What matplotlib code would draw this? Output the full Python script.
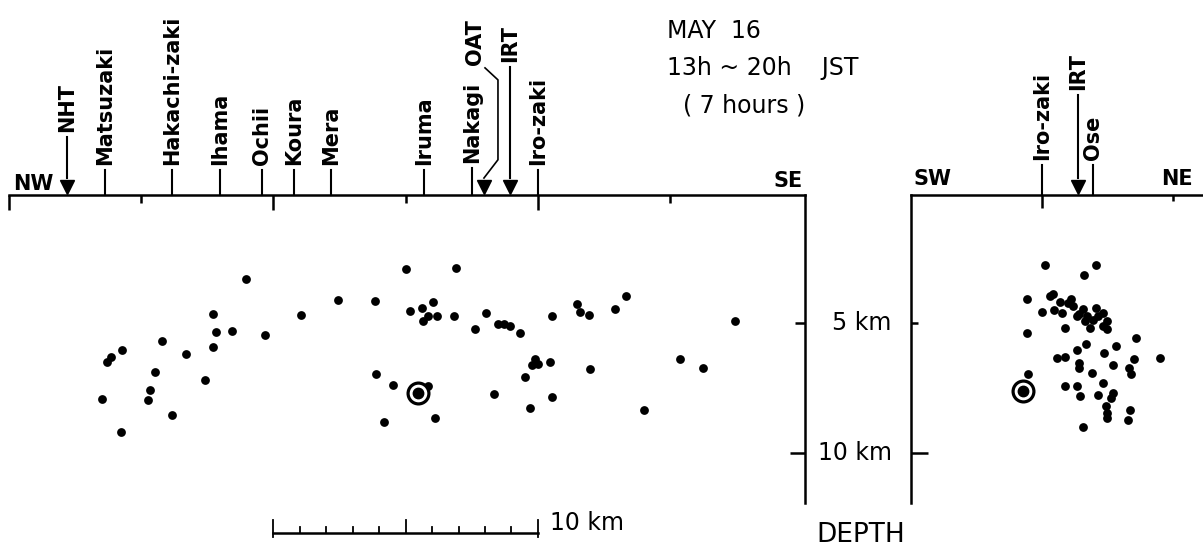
import numpy as np
import matplotlib.pyplot as plt
from matplotlib import font_manager

# hypocentres, NW-SE section (distance along profile km, depth km)
nw_x = [8.95, 15.03, 12.45, 13.83, 7.70, 11.04, 15.17, 15.60, 16.02, 15.84,
        15.65, 16.18, 7.81, 8.43, 9.68, 5.77, 4.29, 3.87, 3.72, 6.71,
        7.73, 5.51, 7.42, 5.35, 5.27, 3.53, 6.18, 4.22, 13.87, 14.52,
        15.86, 14.19, 16.12, 16.91, 16.83, 18.02, 17.62, 18.48, 18.73, 18.96,
        19.34, 20.54, 21.46, 21.61, 21.94, 22.92, 23.34, 27.44, 19.88, 20.01,
        19.77, 20.44, 19.53, 21.98, 25.39, 26.23, 18.35, 20.52, 19.72, 24.01]
nw_depth = [3.31, 2.92, 4.14, 4.15, 4.66, 4.71, 4.53, 4.42, 4.20, 4.74,
            4.92, 4.74, 5.36, 5.30, 5.45, 5.71, 6.04, 6.31, 6.51, 6.18,
            5.93, 6.89, 7.18, 7.57, 7.94, 7.93, 8.54, 9.18, 6.96, 7.38,
            7.42, 8.81, 8.66, 2.90, 4.74, 4.62, 5.24, 5.06, 5.06, 5.10,
            5.40, 4.72, 4.26, 4.59, 4.69, 4.48, 3.97, 4.93, 6.40, 6.58,
            6.63, 6.49, 7.06, 6.77, 6.40, 6.72, 7.71, 7.85, 8.25, 8.33]

# hypocentres, SW-NE section
sw_x = [5.11, 7.06, 6.58, 4.44, 4.99, 5.31, 5.43, 5.69, 5.46, 5.75,
        6.10, 6.19, 6.39, 6.55, 6.71, 7.06, 7.32, 6.96, 6.81, 7.47,
        7.47, 5.88, 4.44, 8.58, 6.68, 6.32, 7.82, 7.38, 9.48, 5.56,
        5.88, 6.39, 6.42, 7.70, 8.51, 8.33, 8.39, 6.90, 4.45, 5.88,
        6.32, 7.32, 6.45, 7.15, 7.72, 7.62, 7.44, 7.47, 7.47, 8.36,
        8.29, 6.55, 5.98, 6.32, 6.64, 7.15, 7.34]
sw_depth = [2.80, 2.80, 3.18, 4.10, 4.59, 3.97, 3.88, 4.20, 4.51, 4.61,
            4.07, 4.36, 4.67, 4.46, 4.74, 4.42, 4.61, 4.87, 5.18, 4.93,
            5.25, 5.18, 5.38, 5.57, 5.79, 6.02, 5.89, 6.17, 6.33, 6.33,
            6.30, 6.52, 6.72, 6.63, 6.40, 6.72, 6.97, 6.91, 6.97, 7.42,
            7.42, 7.29, 7.80, 7.78, 7.67, 7.87, 8.19, 8.44, 8.63, 8.34,
            8.72, 8.98, 4.23, 4.74, 4.93, 4.74, 5.10]

# largest event (circled)
main_nw = [15.46, 7.70]
main_sw = [4.29, 7.61]

# stations projected on the sections
nw_names = ['NHT', 'Matsuzaki', 'Hakachi-zaki', 'Ihama', 'Ochii', 'Koura', 'Mera',
            'Iruma', 'Nakagi', 'OAT', 'IRT', 'Iro-zaki']
nw_km = [2.19, 3.63, 6.16, 7.98, 9.57, 10.78, 12.17, 15.69, 17.5, 17.96, 18.94, 20.0]
nw_arrow = [True, False, False, False, False, False, False, False, False, True, True, False]
sw_names = ['Iro-zaki', 'IRT', 'Ose']
sw_km = [5.0, 6.37, 6.95]
sw_arrow = [False, True, False]

# layout: bottom of each rotated label (negative = above surface line)
nw_label_base = [-2.32, -1.05, -1.05, -1.05, -1.05, -1.05, -1.05, -1.05, -1.13, -4.89, -5.0, -1.05]
nw_label_dx = [0, 0, 0, 0, 0, 0, 0, 0, 0, -0.32, 0, 0]
sw_label_base = [-1.25, -3.93, -1.25]
sw_label_dx = [0, 0, 0]

names = {f.name for f in font_manager.fontManager.ttflist}
if 'Liberation Sans Narrow' in names:
    LAB = dict(family='Liberation Sans Narrow', fontweight='bold', fontsize=21)
    DIR = dict(family='Liberation Sans Narrow', fontweight='bold', fontsize=19)
else:
    LAB = dict(family='DejaVu Sans', fontweight='bold', fontsize=15)
    DIR = dict(family='DejaVu Sans', fontweight='bold', fontsize=15)
REG = dict(family='DejaVu Sans', fontsize=17)

LW = 1.8
W, H = 1203, 552
fig = plt.figure(figsize=(W / 100, H / 100), dpi=100)
top, bot = 195, 503
axL = fig.add_axes([9 / W, (H - bot) / H, 796 / W, (bot - top) / H])
axR = fig.add_axes([911 / W, (H - bot) / H, 291 / W, (bot - top) / H])
axL.set_xlim(0, 30.1)
axR.set_xlim(0, 11.1)
for ax in (axL, axR):
    ax.set_ylim(11.9, 0.1)
    ax.set_facecolor('none')
    for s in ax.spines.values():
        s.set_linewidth(LW)
    ax.spines['bottom'].set_visible(False)
    ax.xaxis.set_ticks_position('top')

axL.spines['left'].set_visible(False)
axL.yaxis.set_ticks_position('right')
axL.set_xticks([0, 10, 20])
axL.set_xticks([5, 15, 25], minor=True)

axR.spines['right'].set_visible(False)
axR.yaxis.set_ticks_position('left')
axR.set_xticks([5])
axR.set_xticks([10], minor=True)

for ax in (axL, axR):
    ax.set_yticks([10])
    ax.set_yticks([5], minor=True)
    ax.tick_params(axis='both', which='both', direction='in', width=LW,
                   labeltop=False, labelbottom=False, labelleft=False, labelright=False)

axL.tick_params(axis='x', which='major', length=11)
axL.tick_params(axis='x', which='minor', length=6)
axL.tick_params(axis='y', which='major', length=11)
axL.tick_params(axis='y', which='minor', length=7)
axR.tick_params(axis='x', which='major', length=9)
axR.tick_params(axis='x', which='minor', length=4)
axR.tick_params(axis='y', which='major', length=12)
axR.tick_params(axis='y', which='minor', length=5)


def draw_events(ax, xs, ds, main):
    ax.scatter(xs, ds, s=40, color='k', linewidths=0, zorder=3)
    ax.plot(main[0], main[1], 'o', ms=15, mfc='white', mec='k', mew=2.3, zorder=4)
    ax.plot(main[0], main[1], 'o', ms=7.5, color='k', zorder=5)


def draw_stations(ax, labels, km, arrow, base, dx):
    for name, x, a, b, d in zip(labels, km, arrow, base, dx):
        lo = -0.55 if a else 0.1
        if a:
            ax.plot(x, -0.22, marker='v', ms=10.5, color='k', clip_on=False)
        if d == 0:
            ax.plot([x, x], [lo, b + 0.2], color='k', lw=1.5, clip_on=False)
        else:
            ax.plot([x, x + 0.53, x + 0.53, x + 0.04], [lo, -1.25, -4.31, -4.77],
                    color='k', lw=1.2, clip_on=False)
        ax.text(x + d, b, name, rotation=90, ha='center', va='bottom', **LAB)


draw_events(axL, nw_x, nw_depth, main_nw)
draw_events(axR, sw_x, sw_depth, main_sw)
draw_stations(axL, nw_names, nw_km, nw_arrow, nw_label_base, nw_label_dx)
draw_stations(axR, sw_names, sw_km, sw_arrow, sw_label_base, sw_label_dx)

axL.text(0.15, -0.1, 'NW', ha='left', va='baseline', **DIR)
axL.text(30.0, -0.21, 'SE', ha='right', va='baseline', **DIR)
axR.text(0.08, -0.29, 'SW', ha='left', va='baseline', **DIR)
axR.text(10.76, -0.29, 'NE', ha='right', va='baseline', **DIR)

# depth labels between the sections
axL.text(33.38, 5, '5 km', ha='right', va='center', **REG)
axL.text(33.38, 10, '10 km', ha='right', va='center', **REG)
axL.text(32.2, 13.12, 'DEPTH', ha='center', va='center', family='DejaVu Sans', fontsize=19)

# 10 km scale bar
bar_start, bar_len = 10, 10
bar_ticks = np.arange(bar_start, bar_start + bar_len + 1)
bar_y = 13.05
axL.plot([bar_start, bar_start + bar_len], [bar_y, bar_y], color='k', lw=LW, clip_on=False)
for t in bar_ticks:
    if t in (bar_start, bar_start + bar_len):
        y0, y1 = bar_y + 0.15, bar_y - 0.5
    elif t == bar_start + bar_len / 2:
        y0, y1 = bar_y, bar_y - 0.5
    else:
        y0, y1 = bar_y, bar_y - 0.23
    axL.plot([t, t], [y0, y1], color='k', lw=1.3, clip_on=False)
axL.text(bar_start + bar_len + 0.45, 12.68, '10 km', ha='left', va='center', **REG)

fig.text(667 / W, 1 - 31 / H, 'MAY  16', ha='left', va='center', **REG)
fig.text(667 / W, 1 - 68 / H, '13h ~ 20h    JST', ha='left', va='center', **REG)
fig.text(683 / W, 1 - 105 / H, '( 7 hours )', ha='left', va='center', **REG)

fig.savefig('out.png', dpi=100)
